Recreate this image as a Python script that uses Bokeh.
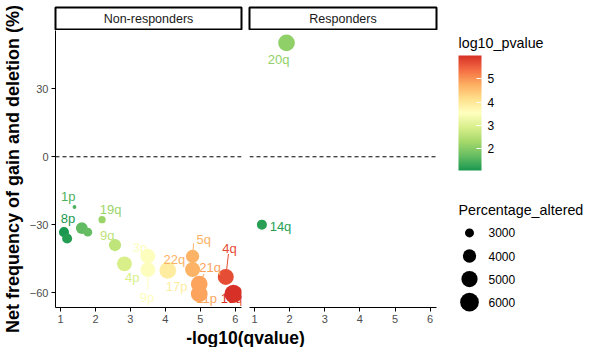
import numpy as np
from bokeh.plotting import figure
from bokeh.models import (Range1d, Span, ColumnDataSource, LinearColorMapper, ColorBar,
                          FixedTicker, Label)
from bokeh.transform import transform
from bokeh.layouts import row, column
from bokeh.core.properties import value
from bokeh.embed import file_html
from bokeh.resources import INLINE

FONT = "Liberation Sans"

# ---------------- data ----------------
# Non-responders
nr_arm = ["1p", "8p", "", "", "", "19q", "9q", "4p", "3p", "9p", "17p",
          "5q", "22q", "21q", "11p", "4q", "18q"]
nr_qval = [1.40, 1.10, 1.19, 1.61, 1.78, 2.19, 2.56, 2.83, 3.50, 3.50, 4.07,
           4.78, 4.78, 4.97, 4.97, 5.73, 5.95]
nr_freq = [-22.2, -33.3, -36.1, -31.5, -33.3, -27.8, -39.0, -47.3, -43.9, -49.9, -50.2,
           -44.0, -49.8, -56.3, -60.6, -53.1, -60.6]
nr_pct = [2500, 3200, 3200, 3600, 3000, 2750, 3700, 4500, 4450, 4450, 5150,
          4000, 4550, 5150, 5200, 4900, 5800]
nr_logp = [1.50, 1.07, 1.15, 1.65, 1.70, 2.20, 2.60, 2.90, 3.50, 3.50, 3.90,
           4.70, 4.70, 4.85, 4.85, 5.70, 6.00]

# Responders
r_arm = ["20q", "14q"]
r_qval = [1.91, 1.21]
r_freq = [50.3, -30.0]
r_pct = [5150, 3200]
r_logp = [2.10, 1.20]

x_ticks = [1, 2, 3, 4, 5, 6]
y_ticks = [-60, -30, 0, 30]
logp_ticks = [2, 3, 4, 5]
size_breaks = [3000, 4000, 5000, 6000]
facet_labels = ["Non-responders", "Responders"]
x_title = "-log10(qvalue)"
y_title = "Net frequency of gain and deletion (%)"

# ---------------- layout / style (not data) ----------------
# label offsets in screen px (repelled label placement)
nr_lab_dx = [-6.3, 4.1, 0, 0, 0, 8.5, -7.8, 7.9, -7.9, -0.9, 8.8, 11.1, -18.2, 10.9, 7.5, 3.7, -1.9]
nr_lab_dy = [-10.5, -13.2, 0, 0, 0, -9.7, -10.0, 14.0, -8.6, 28.0, 16.0, -16.5, -9.7, -16.3, 4.3, -28.0, 4.3]
r_lab_dx = [-7.8, 18.6]
r_lab_dy = [16.1, 1.8]
# leader segments: end offsets (px) from point centre
seg_arm = ["9p", "5q", "4q", "21q"]
seg_dx = [0.0, 1.0, 2.7, 5.0]
seg_dy = [20.0, -13.0, -23.0, -10.3]

XR = (0.857, 6.18)
YR = (-66.6, 55.8)
STRIP_H = 30
FRAME_W, FRAME_H = 187, 277
BOT = 20
PANEL_H = FRAME_H + BOT
TOTAL_H = 347
XT_H = TOTAL_H - STRIP_H - PANEL_H
YT_W = 26
PX_X = FRAME_W / (XR[1] - XR[0])
PX_Y = FRAME_H / (YR[1] - YR[0])

green_red = ["#1a9850", "#66bd63", "#a6d96a", "#d9ef8b", "#ffffbf",
             "#fee08b", "#fdae61", "#f46d43", "#d73027"]


def interp_palette(cols, n=256):
    rgb = np.array([[int(c[i:i + 2], 16) for i in (1, 3, 5)] for c in cols], float)
    t = np.linspace(0, 1, len(cols))
    tt = np.linspace(0, 1, n)
    out = np.stack([np.interp(tt, t, rgb[:, k]) for k in range(3)], axis=1)
    return ["#%02x%02x%02x" % tuple(int(round(v)) for v in r) for r in out]


mapper = LinearColorMapper(palette=interp_palette(green_red), low=1.07, high=6.0)


def dia(v):
    v = np.asarray(v, float)
    return 3 + 15 * np.sqrt(np.clip((v - 2490) / 3210, 0, None))


def blank(width, height, xr, yr, **kw):
    f = figure(width=width, height=height, x_range=xr, y_range=yr,
               output_backend="svg", toolbar_location=None,
               x_axis_location=None, y_axis_location=None, **kw)
    f.grid.visible = False
    f.outline_line_color = None
    f.background_fill_color = "white"
    f.border_fill_color = "white"
    return f


def panel(width, mbl, mbr, show_y, arm, qv, fr, pct, lp, ldx, ldy):
    p = figure(width=width, height=PANEL_H, x_range=Range1d(*XR), y_range=Range1d(*YR),
               output_backend="svg", toolbar_location=None,
               y_axis_location="left" if show_y else None,
               min_border_left=mbl, min_border_right=mbr,
               min_border_top=0, min_border_bottom=BOT)
    p.outline_line_color = None
    p.grid.visible = False
    p.background_fill_color = "white"
    p.border_fill_color = "white"
    axes = list(p.xaxis) + (list(p.yaxis) if show_y else [])
    for ax in axes:
        ax.axis_line_color = "black"
        ax.axis_line_width = 1
        ax.major_tick_line_color = "black"
        ax.major_tick_out = 4
        ax.major_tick_in = 0
        ax.minor_tick_line_color = None
        ax.major_label_text_color = "#4d4d4d"
        ax.major_label_text_font = FONT
        ax.major_label_text_font_size = "11px"
        ax.major_label_standoff = 3
    p.xaxis.ticker = FixedTicker(ticks=x_ticks)
    if show_y:
        p.yaxis.ticker = FixedTicker(ticks=y_ticks)
    p.add_layout(Span(location=0, dimension="width", line_color="black",
                      line_dash="4 3", line_width=1))

    src = ColumnDataSource(dict(x=qv, y=fr, arm=arm, pct=pct, logp=lp,
                                size=dia(pct), dx=ldx, dy=ldy))
    # leader segments
    sx0, sy0, sx1, sy1, slp = [], [], [], [], []
    for a, dx, dy in zip(seg_arm, seg_dx, seg_dy):
        if a in arm:
            i = arm.index(a)
            sx0.append(qv[i]); sy0.append(fr[i])
            sx1.append(qv[i] + dx / PX_X); sy1.append(fr[i] - dy / PX_Y)
            slp.append(lp[i])
    if sx0:
        ssrc = ColumnDataSource(dict(x0=sx0, y0=sy0, x1=sx1, y1=sy1, logp=slp))
        p.segment("x0", "y0", "x1", "y1", source=ssrc,
                  line_color=transform("logp", mapper), line_width=1)
    p.scatter("x", "y", size="size", source=src, marker="circle",
              fill_color=transform("logp", mapper),
              line_color=transform("logp", mapper), line_width=0)
    p.text("x", "y", text="arm", source=src, x_offset="dx", y_offset="dy",
           text_color=transform("logp", mapper), text_font=value(FONT),
           text_font_size="13px", text_align="center", text_baseline="middle")
    return p


def strip(width, mbl, mbr, text):
    s = blank(width, STRIP_H, Range1d(0, 1), Range1d(0, 1),
              min_border_left=mbl, min_border_right=mbr,
              min_border_top=7, min_border_bottom=1)
    s.outline_line_color = "black"
    s.outline_line_width = 2
    s.add_layout(Label(x=0.5, y=0.5, text=text, text_align="center",
                       text_baseline="middle", text_font=FONT,
                       text_font_size="12.5px", text_color="#1a1a1a"))
    return s


W1 = 244 - YT_W
p1 = panel(W1, 54 - YT_W, 3, True, nr_arm, nr_qval, nr_freq, nr_pct, nr_logp, nr_lab_dx, nr_lab_dy)
p2 = panel(196, 5, 4, False, r_arm, r_qval, r_freq, r_pct, r_logp, r_lab_dx, r_lab_dy)
s1 = strip(W1, 54 - YT_W, 3, facet_labels[0])
s2 = strip(196, 5, 4, facet_labels[1])

# y-axis title (spans full height so it is not clipped by the panel canvas)
yt = blank(YT_W, TOTAL_H, Range1d(0, YT_W), Range1d(TOTAL_H, 0), min_border=0)
yt.add_layout(Label(x=YT_W / 2 - 0.5, y=STRIP_H + FRAME_H / 2, text=y_title, angle=np.pi / 2,
                    text_align="center", text_baseline="middle", text_font=FONT,
                    text_font_style="bold", text_font_size="18px", text_color="black"))

# x-axis title spanning both panels
xt = blank(W1 + 196, XT_H, Range1d(0, 1), Range1d(0, 1),
           min_border_left=54 - YT_W, min_border_right=4, min_border_top=0, min_border_bottom=0)
xt.add_layout(Label(x=0.5, y=0.5, text=x_title, text_align="center",
                    text_baseline="middle", text_font=FONT, text_font_style="bold",
                    text_font_size="17.5px", text_color="black"))

# legends
LEG_H = STRIP_H + PANEL_H
leg = blank(144, LEG_H, Range1d(0, 144), Range1d(LEG_H, 0), min_border=0)
leg.text(x=[18, 18], y=[42, 209], text=["log10_pvalue", "Percentage_altered"],
         text_font=value(FONT), text_font_size="14.3px", text_color="black",
         text_align="left", text_baseline="middle")
cb = ColorBar(color_mapper=mapper, location=(18, LEG_H - 170), width=23, height=115,
              padding=0, margin=0, ticker=FixedTicker(ticks=logp_ticks),
              major_label_text_font=FONT, major_label_text_font_size="12px",
              major_label_text_color="black", major_tick_line_color="white",
              major_tick_in=5, major_tick_out=0, minor_tick_line_color=None,
              label_standoff=6, bar_line_color=None, border_line_color=None,
              background_fill_alpha=0)
leg.add_layout(cb)
n = len(size_breaks)
ly = [232.4 + 23.1 * k for k in range(n)]
leg.scatter(x=[29] * n, y=ly, size=dia(size_breaks), marker="circle",
            fill_color="black", line_color="black", line_width=0)
leg.text(x=[48] * n, y=ly, text=[str(b) for b in size_breaks],
         text_font=value(FONT), text_font_size="12px", text_color="black",
         text_align="left", text_baseline="middle")

layout = row(yt, column(row(column(s1, p1), column(s2, p2), leg), xt))

open("out.html", "w").write(file_html(layout, INLINE))
